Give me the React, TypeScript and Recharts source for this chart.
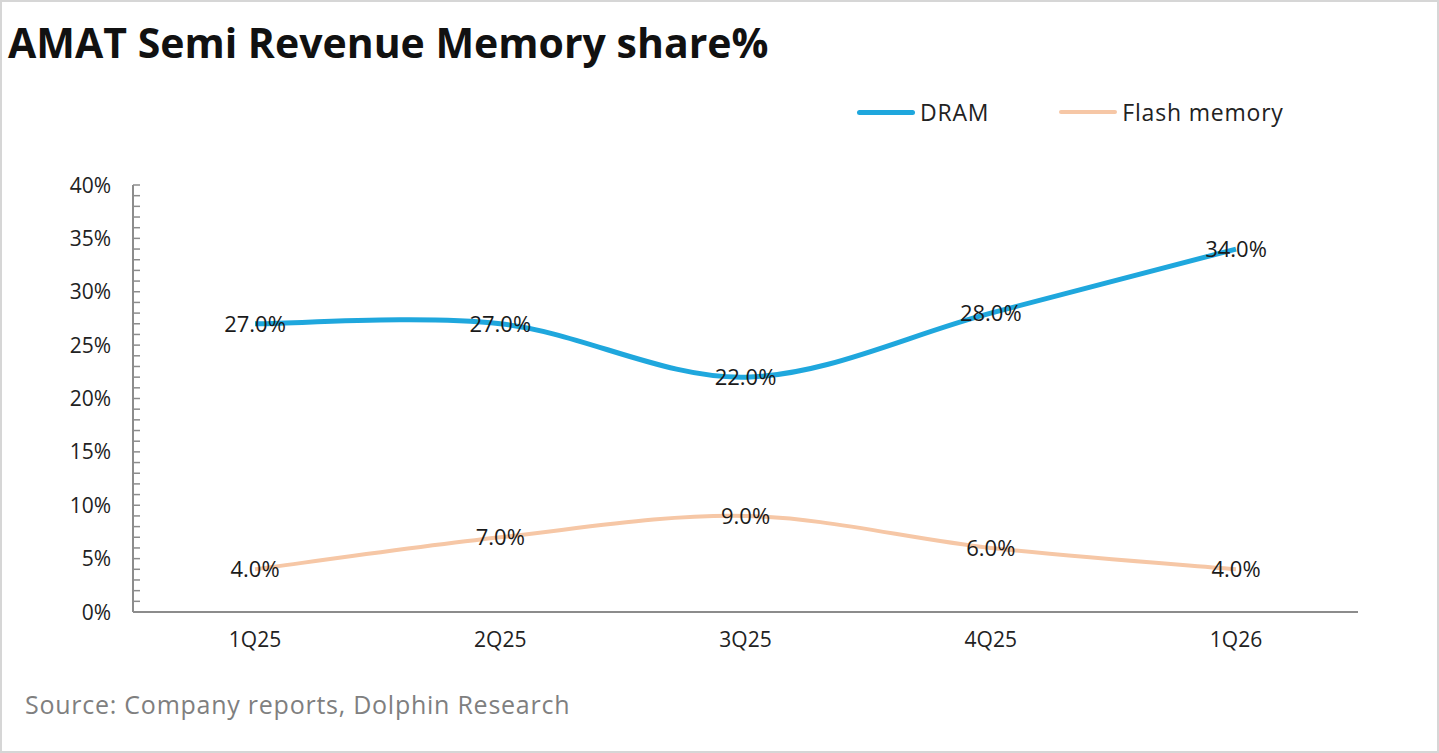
import { LineChart, Line, XAxis, YAxis, Legend, LabelList } from 'recharts';

const quarters = ['1Q25', '2Q25', '3Q25', '4Q25', '1Q26'];
const dramShare = [27, 27, 22, 28, 34];
const flashShare = [4, 7, 9, 6, 4];
const majorTicks = [0, 5, 10, 15, 20, 25, 30, 35, 40];
const minorTicks = Array.from({ length: 41 }, (_, i) => i);

const seriesInfo = [
  { key: 'dram', name: 'DRAM', color: '#1fa7dd', width: 5 },
  { key: 'flash', name: 'Flash memory', color: '#f6c7a6', width: 4 },
];

const chartData = quarters.map((q, i) => ({ quarter: q, dram: dramShare[i], flash: flashShare[i] }));

const FONT = '"Open Sans", "Noto Sans", sans-serif';
const AXIS = '#8c8c8c';

// Excel-style smoothed line (Catmull-Rom through every point)
function excelSmooth(context: any) {
  let pts: [number, number][] = [];
  return {
    areaStart() {},
    areaEnd() {},
    lineStart() {
      pts = [];
    },
    lineEnd() {
      if (!pts.length) return;
      context.moveTo(pts[0][0], pts[0][1]);
      for (let i = 0; i < pts.length - 1; i++) {
        const p0 = pts[Math.max(i - 1, 0)];
        const p1 = pts[i];
        const p2 = pts[i + 1];
        const p3 = pts[Math.min(i + 2, pts.length - 1)];
        context.bezierCurveTo(
          p1[0] + (p2[0] - p0[0]) / 6,
          p1[1] + (p2[1] - p0[1]) / 6,
          p2[0] - (p3[0] - p1[0]) / 6,
          p2[1] - (p3[1] - p1[1]) / 6,
          p2[0],
          p2[1]
        );
      }
    },
    point(x: number, y: number) {
      pts.push([x, y]);
    },
  };
}

const pct1 = (v: any) => `${Number(v).toFixed(1)}%`;

// only the 5% steps get a label, the 1% steps are minor tick marks
function YTick(props: any) {
  const { x, y, payload } = props;
  if (!majorTicks.includes(payload.value)) return <g />;
  return (
    <text x={x} y={y} dy="0.36em" textAnchor="end" fill="#222" fontSize={21}>
      {`${payload.value}%`}
    </text>
  );
}

function renderLegend() {
  return (
    <div style={{ display: 'flex', alignItems: 'center', fontFamily: FONT, fontSize: 23, color: '#222', letterSpacing: 0.8 }}>
      {seriesInfo.map((s, i) => (
        <div key={s.key} style={{ display: 'flex', alignItems: 'center', marginRight: i === 0 ? 70 : 0 }}>
          <div style={{ width: 58, height: s.width, borderRadius: 3, background: s.color, marginRight: 5 }} />
          <span>{s.name}</span>
        </div>
      ))}
    </div>
  );
}

export default function App() {
  return (
    <div
      style={{
        position: 'absolute',
        left: 0,
        top: 0,
        width: 1439,
        height: 753,
        boxSizing: 'border-box',
        border: '2px solid #d6d6d6',
        background: '#fff',
        fontFamily: FONT,
        overflow: 'hidden',
      }}
    >
      <div style={{ position: 'absolute', left: 6, top: 12, fontSize: 41, fontWeight: 700, color: '#111' }}>
        AMAT Semi Revenue Memory share%
      </div>
      <div style={{ position: 'absolute', left: 0, top: 0 }}>
        <LineChart
          width={1435}
          height={749}
          data={chartData}
          margin={{ top: 183, right: 79, bottom: 99, left: 31 }}
          style={{ fontFamily: FONT }}
        >
          <XAxis
            dataKey="quarter"
            padding={{ left: 122, right: 122 }}
            axisLine={{ stroke: AXIS, strokeWidth: 2 }}
            tickLine={false}
            tickSize={6}
            tickMargin={14}
            height={40}
            tick={{ fill: '#222', fontSize: 21 }}
          />
          <YAxis
            domain={[0, 40]}
            ticks={minorTicks}
            interval={0}
            width={100}
            axisLine={{ stroke: AXIS, strokeWidth: 2 }}
            tickLine={{ stroke: AXIS, strokeWidth: 1.5 }}
            tickSize={-7}
            tickMargin={29}
            tick={<YTick />}
          />
          <Legend
            layout="horizontal"
            verticalAlign="middle"
            align="center"
            content={renderLegend}
            wrapperStyle={{ position: 'absolute', top: 94, left: 855, width: 'auto', height: 'auto' }}
          />
          {seriesInfo.map((s) => (
            <Line
              key={s.key}
              dataKey={s.key}
              name={s.name}
              stroke={s.color}
              strokeWidth={s.width}
              type={excelSmooth as any}
              dot={false}
              activeDot={false}
              isAnimationActive={false}
            >
              <LabelList dataKey={s.key} position="center" formatter={pct1} fill="#1a1a1a" fontSize={22} />
            </Line>
          ))}
        </LineChart>
      </div>
      <div style={{ position: 'absolute', left: 23, top: 685, fontSize: 25, color: '#7f7f7f', letterSpacing: 0.75 }}>
        Source: Company reports, Dolphin Research
      </div>
    </div>
  );
}
